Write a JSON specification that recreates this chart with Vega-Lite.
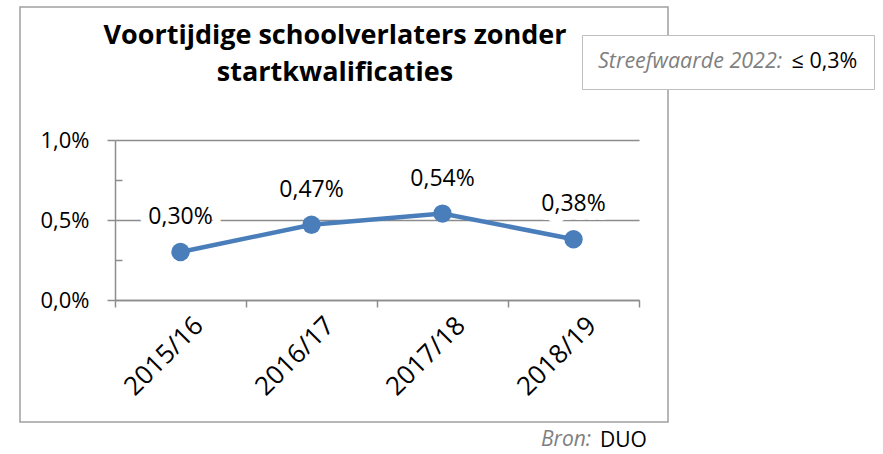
{
  "$schema": "https://vega.github.io/schema/vega-lite/v6.json",
  "width": 648,
  "height": 415,
  "autosize": {"type": "none"},
  "padding": {"left": 20, "top": 7, "right": 215, "bottom": 32},
  "background": "white",
  "config": {
    "locale": {"number": {"decimal": ",", "thousands": ".", "grouping": [3], "currency": ["€ ", ""]}},
    "view": {"stroke": "#a0a0a0", "strokeWidth": 1.5, "fill": "white"},
    "font": "Open Sans"
  },
  "title": {
    "text": ["Voortijdige schoolverlaters zonder", "startkwalificaties"],
    "font": "Open Sans",
    "fontSize": 27,
    "fontWeight": "bold",
    "color": "black",
    "anchor": "middle",
    "frame": "group",
    "baseline": "top",
    "offset": 0,
    "dy": 80,
    "dx": -9,
    "lineHeight": 37
  },
  "datasets": {
    "rates": [
      {"jaar": "2015/16", "rate": 0.0030},
      {"jaar": "2016/17", "rate": 0.0047},
      {"jaar": "2017/18", "rate": 0.0054},
      {"jaar": "2018/19", "rate": 0.0038}
    ],
    "target": [{"label": "≤ 0,3%"}],
    "source": [{"label": "DUO"}]
  },
  "layer": [
    {
      "data": {"name": "rates"},
      "encoding": {
        "x": {
          "field": "jaar",
          "type": "nominal",
          "sort": null,
          "scale": {"type": "band", "domain": ["2015/16", "2016/17", "2017/18", "2018/19"], "range": [95, 619], "paddingInner": 0, "paddingOuter": 0},
          "axis": {
            "title": null,
            "orient": "bottom",
            "offset": -122,
            "labelAngle": -45,
            "labelAlign": "right",
            "labelBaseline": "middle",
            "labelFont": "Open Sans",
            "labelFontSize": 26,
            "labelColor": "black",
            "labelPadding": 14,
            "labelOffset": 18,
            "labelOverlap": false,
            "tickBand": "extent",
            "tickSize": 7,
            "tickColor": "#8c8c8c",
            "tickWidth": 1.5,
            "domainColor": "#8c8c8c",
            "domainWidth": 1.5,
            "grid": false
          }
        }
      },
      "layer": [
        {
          "mark": {"type": "text", "fill": "white", "stroke": "white", "strokeWidth": 18, "strokeJoin": "round", "fontSize": 23, "font": "Open Sans", "dy": -35, "baseline": "middle"},
          "encoding": {
            "y": {"field": "rate", "type": "quantitative", "scale": {"domain": [0, 0.01], "range": [293, 133], "nice": false, "zero": false}, "axis": null},
            "text": {"field": "rate", "type": "quantitative", "format": ".2%"}
          }
        },
        {
          "mark": {"type": "line", "color": "#4a7ebb", "strokeWidth": 4.5},
          "encoding": {
            "y": {
              "field": "rate",
              "type": "quantitative",
              "scale": {"domain": [0, 0.01], "range": [293, 133], "nice": false, "zero": false},
              "axis": {
                "title": null,
                "orient": "left",
                "offset": -95,
                "values": [0, 0.005, 0.01],
                "format": ".1%",
                "labelFont": "Open Sans",
                "labelFontSize": 22,
                "labelColor": "black",
                "labelPadding": 18,
                "tickSize": 8,
                "tickColor": "#8c8c8c",
                "tickWidth": 1.5,
                "domainColor": "#8c8c8c",
                "domainWidth": 1.5,
                "grid": true,
                "gridColor": "#8c8c8c",
                "gridWidth": 1.5
              }
            }
          }
        },
        {
          "mark": {"type": "point", "filled": true, "size": 340, "color": "#4a7ebb", "opacity": 1},
          "encoding": {
            "y": {
              "field": "rate",
              "type": "quantitative",
              "scale": {"domain": [0, 0.01], "range": [293, 133], "nice": false, "zero": false},
              "axis": {
                "title": null,
                "orient": "left",
                "offset": -95,
                "values": [0.0025, 0.0075],
                "labels": false,
                "domain": false,
                "grid": false,
                "tickSize": -7,
                "tickColor": "#8c8c8c",
                "tickWidth": 1.5
              }
            }
          }
        },
        {
          "mark": {"type": "text", "color": "black", "fontSize": 23, "font": "Open Sans", "dy": -35, "baseline": "middle"},
          "encoding": {
            "y": {"field": "rate", "type": "quantitative", "scale": {"domain": [0, 0.01], "range": [293, 133], "nice": false, "zero": false}, "axis": null},
            "text": {"field": "rate", "type": "quantitative", "format": ".2%"}
          }
        }
      ],
      "resolve": {"scale": {"y": "independent"}}
    },
    {
      "data": {"name": "target"},
      "mark": {"type": "point", "opacity": 0},
      "encoding": {
        "color": {
          "field": "label",
          "type": "nominal",
          "scale": {"range": ["black"]},
          "legend": {
            "orient": "none",
            "legendX": 562,
            "legendY": 28,
            "title": "Streefwaarde 2022:",
            "titleOrient": "left",
            "titleLimit": 400,
            "titleFont": "Open Sans",
            "titleFontSize": 21.5,
            "titleFontStyle": "italic",
            "titleFontWeight": "normal",
            "titleColor": "#7f7f7f",
            "titlePadding": 6,
            "labelFont": "Open Sans",
            "labelFontSize": 21.5,
            "labelColor": "black",
            "labelOffset": -19,
            "symbolSize": 0,
            "symbolStrokeWidth": 0,
            "symbolOpacity": 0,
            "padding": 16,
            "strokeColor": "#bfbfbf",
            "fillColor": "white"
          }
        }
      }
    },
    {
      "data": {"name": "source"},
      "mark": {"type": "point", "opacity": 0},
      "encoding": {
        "shape": {
          "field": "label",
          "type": "nominal",
          "legend": {
            "orient": "none",
            "legendX": 521,
            "legendY": 423,
            "title": "Bron:",
            "titleOrient": "left",
            "titleFont": "Open Sans",
            "titleFontSize": 21,
            "titleFontStyle": "italic",
            "titleFontWeight": "normal",
            "titleColor": "#7f7f7f",
            "titlePadding": 6,
            "labelFont": "Open Sans",
            "labelFontSize": 21,
            "labelColor": "black",
            "labelOffset": -19,
            "symbolSize": 0,
            "symbolStrokeWidth": 0,
            "symbolOpacity": 0,
            "padding": 0
          }
        }
      }
    }
  ]
}
